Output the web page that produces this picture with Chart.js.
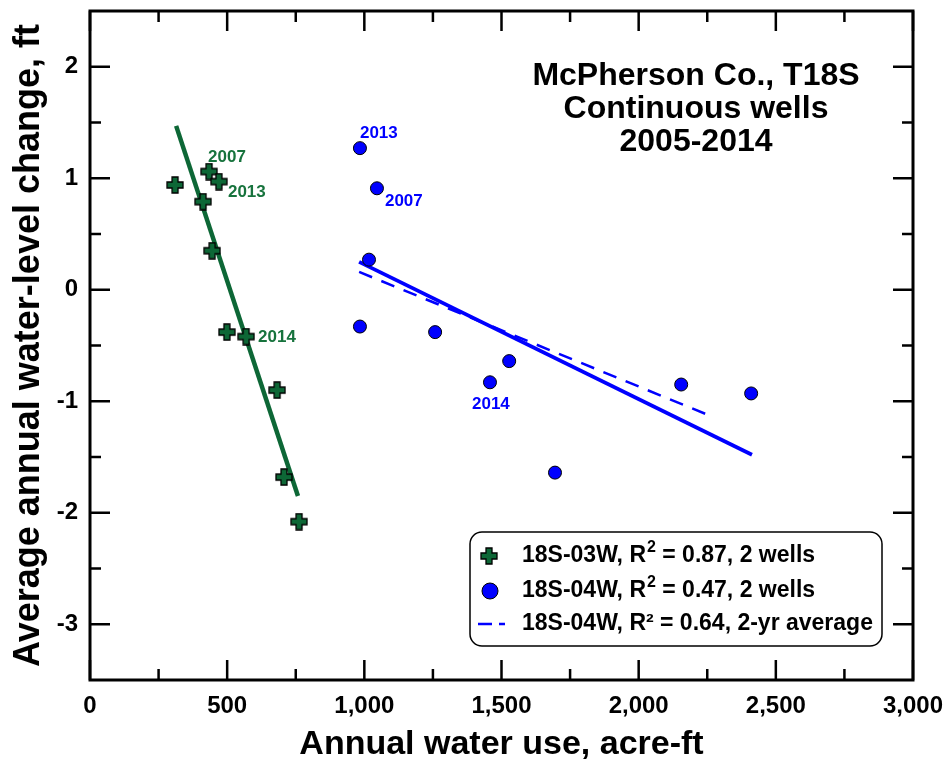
<!DOCTYPE html>
<html>
<head>
<meta charset="utf-8">
<script src="https://cdn.jsdelivr.net/npm/chart.js@4.4.1/dist/chart.umd.min.js"></script>
<style>
  html, body { margin: 0; padding: 0; background: #fff; }
  #wrap { width: 951px; height: 759px; position: relative; }
</style>
</head>
<body>
<div id="wrap"><canvas id="waterChart" width="951" height="759"></canvas></div>
<script>
// 18S-03W points (annual water use, acre-ft / level change, ft)
const use03 = [310, 434, 470, 412, 445, 499, 569, 682, 707, 762];
const change03 = [0.94, 1.06, 0.97, 0.79, 0.35, -0.38, -0.42, -0.90, -1.68, -2.08];
const years03 = ['', '2007', '2013', '', '', '', '2014', '', '', ''];

// 18S-04W points
const use04 = [984, 1046, 1017, 984, 1258, 1458, 1528, 1695, 2155, 2410];
const change04 = [1.27, 0.91, 0.27, -0.33, -0.38, -0.83, -0.64, -1.64, -0.85, -0.93];
const years04 = ['2013', '2007', '', '', '', '2014', '', '', '', ''];

// regression lines (end points)
const fit03Use = [314, 758];
const fit03Change = [1.47, -1.85];
const fit04Use = [981, 2413];
const fit04Change = [0.25, -1.48];
const fitAvgUse = [981, 2260];
const fitAvgChange = [0.16, -1.13];

// axis ticks
const xMajorTicks = [0, 500, 1000, 1500, 2000, 2500, 3000];
const xMinorTicks = [250, 750, 1250, 1750, 2250, 2750];
const yMajorTicks = [-3, -2, -1, 0, 1, 2];
const yMinorTicks = [-2.5, -1.5, -0.5, 0.5, 1.5];

const titleLines = ['McPherson Co., T18S', 'Continuous wells', '2005-2014'];
const legendLabels = [
  ['18S-03W, R', '2', ' = 0.87, 2 wells'],
  ['18S-04W, R', '2', ' = 0.47, 2 wells'],
  ['18S-04W, R\u00b2 = 0.64, 2-yr average', '', '']
];

const GREEN = '#0d6736';
const GREEN_TXT = '#17733d';
const BLUE = '#0000ff';
const FONT = '"Liberation Sans", Arial, sans-serif';

function toPoints(xs, ys) {
  return xs.map((x, i) => ({ x: x, y: ys[i] }));
}

// filled plus marker with black outline
function makePlus(size, arm) {
  const c = document.createElement('canvas');
  c.width = size; c.height = size;
  const g = c.getContext('2d');
  const m = size / 2, h = arm / 2, l = size / 2 - 1;
  g.beginPath();
  g.moveTo(m - h, m - l); g.lineTo(m + h, m - l); g.lineTo(m + h, m - h);
  g.lineTo(m + l, m - h); g.lineTo(m + l, m + h); g.lineTo(m + h, m + h);
  g.lineTo(m + h, m + l); g.lineTo(m - h, m + l); g.lineTo(m - h, m + h);
  g.lineTo(m - l, m + h); g.lineTo(m - l, m - h); g.lineTo(m - h, m - h);
  g.closePath();
  g.fillStyle = GREEN;
  g.fill();
  g.lineWidth = 1.3;
  g.strokeStyle = '#000';
  g.stroke();
  return c;
}
const plusMarker = makePlus(18, 6);

// frame + inward ticks on all four sides
const frameTicks = {
  id: 'frameTicks',
  afterDatasetsDraw(chart) {
    const ctx = chart.ctx;
    const a = chart.chartArea;
    const xs = chart.scales.x, ys = chart.scales.y;
    ctx.save();
    ctx.strokeStyle = '#000';
    ctx.lineWidth = 2.5;
    ctx.beginPath();
    const tick = (vals, len) => {
      vals.forEach(v => {
        const px = xs.getPixelForValue(v);
        ctx.moveTo(px, a.bottom); ctx.lineTo(px, a.bottom - len);
        ctx.moveTo(px, a.top); ctx.lineTo(px, a.top + len);
      });
    };
    const ytick = (vals, len) => {
      vals.forEach(v => {
        const py = ys.getPixelForValue(v);
        ctx.moveTo(a.left, py); ctx.lineTo(a.left + len, py);
        ctx.moveTo(a.right, py); ctx.lineTo(a.right - len, py);
      });
    };
    tick(xMajorTicks, 20); tick(xMinorTicks, 11);
    ytick(yMajorTicks, 20); ytick(yMinorTicks, 11);
    ctx.stroke();
    ctx.lineWidth = 3;
    ctx.strokeRect(a.left, a.top, a.right - a.left, a.bottom - a.top);
    ctx.restore();
  }
};

// year labels next to points
const labelOffsets03 = { '2007': [-1, -14], '2013': [9, 11], '2014': [12, 1] };
const labelOffsets04 = { '2013': [0, -15], '2007': [8, 13], '2014': [-18, 22] };
const yearLabels = {
  id: 'yearLabels',
  afterDatasetsDraw(chart) {
    const ctx = chart.ctx;
    ctx.save();
    ctx.font = 'bold 17px ' + FONT;
    ctx.textAlign = 'left';
    ctx.textBaseline = 'middle';
    const draw = (dsIndex, years, offs, color) => {
      const meta = chart.getDatasetMeta(dsIndex);
      ctx.fillStyle = color;
      years.forEach((yr, i) => {
        if (!yr) return;
        const el = meta.data[i];
        ctx.fillText(yr, el.x + offs[yr][0], el.y + offs[yr][1]);
      });
    };
    draw(0, years03, labelOffsets03, GREEN_TXT);
    draw(2, years04, labelOffsets04, BLUE);
    ctx.restore();
  }
};

// title block and legend box inside the plot
const annotations = {
  id: 'annotations',
  afterDraw(chart) {
    const ctx = chart.ctx;
    ctx.save();
    ctx.fillStyle = '#000';
    ctx.font = 'bold 32px ' + FONT;
    ctx.textAlign = 'center';
    ctx.textBaseline = 'middle';
    titleLines.forEach((t, i) => ctx.fillText(t, 696, 76 + i * 33));

    // legend box
    const bx = 470, by = 532, bw = 412, bh = 114, r = 12;
    ctx.beginPath();
    ctx.roundRect(bx, by, bw, bh, r);
    ctx.fillStyle = '#fff';
    ctx.fill();
    ctx.lineWidth = 1.5;
    ctx.strokeStyle = '#000';
    ctx.stroke();

    const rows = [556, 591, 624];
    ctx.drawImage(plusMarker, 489 - 9, rows[0] - 9);
    ctx.beginPath();
    ctx.arc(490, rows[1], 8, 0, Math.PI * 2);
    ctx.fillStyle = BLUE;
    ctx.fill();
    ctx.lineWidth = 1;
    ctx.strokeStyle = '#000';
    ctx.stroke();
    ctx.strokeStyle = BLUE;
    ctx.lineWidth = 2.5;
    ctx.beginPath();
    ctx.moveTo(478, rows[2]); ctx.lineTo(492, rows[2]);
    ctx.moveTo(499, rows[2]); ctx.lineTo(505, rows[2]);
    ctx.stroke();

    ctx.fillStyle = '#000';
    ctx.textAlign = 'left';
    legendLabels.forEach((parts, i) => {
      let x = 522;
      ctx.font = 'bold 23px ' + FONT;
      ctx.fillText(parts[0], x, rows[i]);
      x += ctx.measureText(parts[0]).width;
      if (parts[1]) {
        ctx.font = 'bold 16px ' + FONT;
        ctx.fillText(parts[1], x + 1, rows[i] - 8);
        x += ctx.measureText(parts[1]).width + 1;
        ctx.font = 'bold 23px ' + FONT;
        ctx.fillText(parts[2], x, rows[i]);
      }
    });
    ctx.restore();
  }
};

function initWaterChart() {
  const ctx = document.getElementById('waterChart').getContext('2d');
  new Chart(ctx, {
    type: 'scatter',
    data: {
      datasets: [
        {
          label: '18S-03W',
          data: toPoints(use03, change03),
          pointStyle: plusMarker,
          pointRadius: 9,
          order: 1
        },
        {
          type: 'line',
          label: '18S-03W fit',
          data: toPoints(fit03Use, fit03Change),
          borderColor: GREEN,
          borderWidth: 4.5,
          pointRadius: 0,
          fill: false,
          order: 2
        },
        {
          label: '18S-04W',
          data: toPoints(use04, change04),
          pointStyle: 'circle',
          pointRadius: 6.5,
          backgroundColor: BLUE,
          borderColor: '#000',
          borderWidth: 1,
          order: 1
        },
        {
          type: 'line',
          label: '18S-04W fit',
          data: toPoints(fit04Use, fit04Change),
          borderColor: BLUE,
          borderWidth: 3.8,
          pointRadius: 0,
          fill: false,
          order: 2
        },
        {
          type: 'line',
          label: '18S-04W 2-yr average fit',
          data: toPoints(fitAvgUse, fitAvgChange),
          borderColor: BLUE,
          borderWidth: 2.5,
          borderDash: [14, 10],
          pointRadius: 0,
          fill: false,
          order: 2
        }
      ]
    },
    options: {
      responsive: false,
      animation: false,
      layout: { padding: { top: 11, right: 38, left: 0, bottom: 0 } },
      plugins: {
        legend: { display: false },
        tooltip: { enabled: false }
      },
      scales: {
        x: {
          type: 'linear',
          min: 0,
          max: 3000,
          afterBuildTicks: (scale) => { scale.ticks = xMajorTicks.map(v => ({ value: v })); },
          afterFit: (scale) => {
            scale.height = 79;
            scale.paddingLeft = 0; scale.paddingRight = 0;
          },
          grid: { display: false, drawTicks: false },
          border: { display: false },
          ticks: {
            color: '#000',
            padding: 12,
            maxRotation: 0,
            font: { family: FONT, size: 24, weight: 'bold' },
            callback: (v) => v.toLocaleString('en-US')
          },
          title: {
            display: true,
            text: 'Annual water use, acre-ft',
            color: '#000',
            font: { family: FONT, size: 34, weight: 'bold' },
            padding: { top: 0, bottom: -6 }
          }
        },
        y: {
          type: 'linear',
          min: -3.5,
          max: 2.5,
          afterBuildTicks: (scale) => { scale.ticks = yMajorTicks.map(v => ({ value: v })); },
          afterFit: (scale) => {
            scale.width = 90;
            scale.paddingTop = 0; scale.paddingBottom = 0;
          },
          grid: { display: false, drawTicks: false },
          border: { display: false },
          ticks: {
            color: '#000',
            padding: 12,
            font: { family: FONT, size: 24, weight: 'bold' }
          },
          title: {
            display: true,
            text: 'Average annual water-level change, ft',
            color: '#000',
            font: { family: FONT, size: 36, weight: 'bold' },
            padding: { top: 7, bottom: 0 }
          }
        }
      }
    },
    plugins: [frameTicks, yearLabels, annotations]
  });
}

document.addEventListener('DOMContentLoaded', initWaterChart);
</script>
</body>
</html>
